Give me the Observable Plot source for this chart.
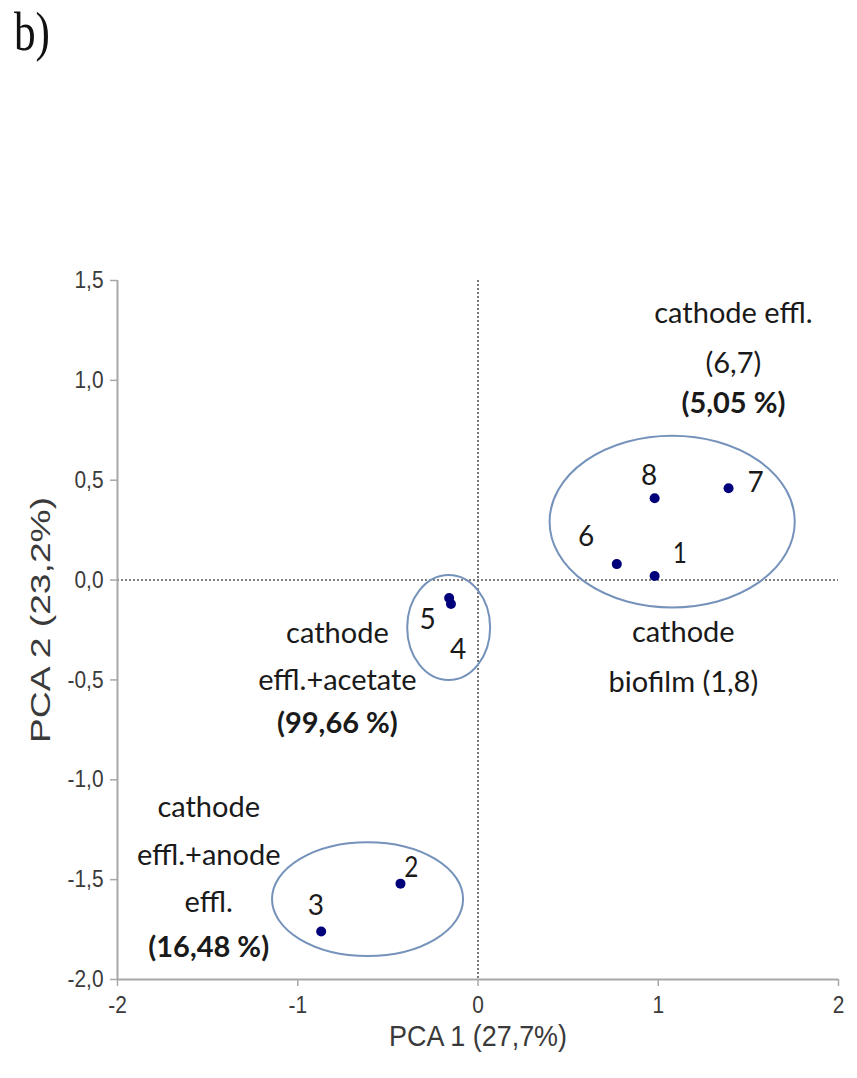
<!DOCTYPE html>
<html><head><meta charset="utf-8">
<script src="https://cdn.jsdelivr.net/npm/d3@7"></script>
<script src="https://cdn.jsdelivr.net/npm/@observablehq/plot@0.6"></script>
<style>
body{margin:0;background:#fff;}
#wrap{position:relative;width:857px;height:1078px;overflow:hidden;}
#tag{position:absolute;left:14px;top:0px;font-family:"Liberation Serif",serif;font-size:54px;line-height:64px;color:#111;transform:scale(0.8,1);transform-origin:0 0;}
#chart{position:absolute;left:0;top:0;}
</style></head><body>
<div id="wrap"><div id="chart"></div><div id="tag">b)</div></div>
<script>
// ---- data ----
const sampleIds = ["1","2","3","4","5","6","7","8"];
const pc1 = [0.98, -0.43, -0.87, -0.15, -0.16, 0.77, 1.39, 0.98];
const pc2 = [0.02, -1.52, -1.76, -0.12, -0.09, 0.08, 0.46, 0.41];
// label anchor positions (data units)
const idLabelX = [1.12, -0.37, -0.90, -0.11, -0.28, 0.60, 1.54, 0.95];
const idLabelY = [0.13, -1.44, -1.63, -0.35, -0.20, 0.215, 0.484, 0.523];

// cluster ellipses: center and semi-axes in data units
const clusterCx = [1.08, -0.16, -0.61];
const clusterCy = [0.29, -0.24, -1.60];
const clusterRx = [0.68, 0.23, 0.53];
const clusterRy = [0.43, 0.263, 0.285];

// annotation lines
const noteLines = ["cathode effl.", "(6,7)", "(5,05 %)", "cathode", "biofilm (1,8)",
  "cathode", "effl.+acetate", "(99,66 %)", "cathode", "effl.+anode", "effl.", "(16,48 %)"];
const noteX = [1.417, 1.417, 1.417, 1.139, 1.139, -0.78, -0.78, -0.78, -1.494, -1.494, -1.494, -1.494];
const noteY = [1.334, 1.084, 0.884, -0.263, -0.513, -0.268, -0.503, -0.719, -1.139, -1.379, -1.615, -1.84];
const noteBold = [false, false, true, false, false, false, false, true, false, false, false, true];

const xTicks = [-2, -1, 0, 1, 2];
const xTickLabels = ["-2", "-1", "0", "1", "2"];
const yTicks = [1.5, 1.0, 0.5, 0.0, -0.5, -1.0, -1.5, -2.0];
const yTickLabels = ["1,5", "1,0", "0,5", "0,0", "-0,5", "-1,0", "-1,5", "-2,0"];
const xTitle = "PCA 1 (27,7%)";
const yTitle = "PCA 2 (23,2%)";

// ---- tables ----
const samples = sampleIds.map((id, i) => ({id, pc1: pc1[i], pc2: pc2[i], lx: idLabelX[i], ly: idLabelY[i]}));
const clusters = clusterCx.map((cx, i) => ({cx, cy: clusterCy[i], rx: clusterRx[i], ry: clusterRy[i]}));
const notes = noteLines.map((t, i) => ({t, x: noteX[i], y: noteY[i], bold: noteBold[i]}));

const axisGray = "#a8a8a8";
const labelFont = "Lato, 'Open Sans', sans-serif";

function ellipseMark(index, scales) {
  const g = d3.create("svg:g").attr("fill", "none").attr("stroke", "#7592bb").attr("stroke-width", 2);
  for (const c of clusters) {
    const cx = scales.x(c.cx), cy = scales.y(c.cy);
    g.append("ellipse")
      .attr("cx", cx).attr("cy", cy)
      .attr("rx", Math.abs(scales.x(c.cx + c.rx) - cx))
      .attr("ry", Math.abs(scales.y(c.cy + c.ry) - cy));
  }
  return g.node();
}

const chart = Plot.plot({
  width: 857, height: 1078,
  marginLeft: 117, marginRight: 19, marginTop: 280, marginBottom: 99,
  x: {domain: [-2, 2]},
  y: {domain: [-2, 1.5]},
  style: {background: "white", fontFamily: "'Liberation Sans', Arial, sans-serif"},
  marks: [
    Plot.ruleX([0], {stroke: "#555", strokeWidth: 1.6, strokeDasharray: "2,2"}),
    Plot.ruleY([0], {stroke: "#555", strokeWidth: 1.6, strokeDasharray: "2,2"}),
    Plot.axisX(xTicks, {
      tickFormat: d => xTickLabels[xTicks.indexOf(d)],
      tickSize: 7, tickPadding: 9, stroke: axisGray, strokeWidth: 1.5,
      fill: "#3a3a3a", fontSize: 24, label: null
    }),
    Plot.axisY(yTicks, {
      tickFormat: d => yTickLabels[yTicks.indexOf(d)],
      tickSize: 7, tickPadding: 7, stroke: axisGray, strokeWidth: 1.5,
      fill: "#3a3a3a", fontSize: 24, label: null
    }),
    Plot.ruleY([-2], {stroke: axisGray, strokeWidth: 2}),
    Plot.ruleX([-2], {stroke: axisGray, strokeWidth: 2}),
    ellipseMark,
    Plot.dot(samples, {x: "pc1", y: "pc2", r: 5, fill: "#00007a", stroke: "none"}),
    Plot.text(samples, {x: "lx", y: "ly", text: "id", fontSize: 28, fontFamily: labelFont, fill: "#1a1a1a"}),
    Plot.text(notes.filter(d => !d.bold), {x: "x", y: "y", text: "t", fontSize: 29, fontFamily: labelFont, fill: "#1a1a1a"}),
    Plot.text(notes.filter(d => d.bold), {x: "x", y: "y", text: "t", fontSize: 29, fontWeight: "bold", fontFamily: labelFont, fill: "#1a1a1a"}),
    Plot.text([xTitle], {frameAnchor: "bottom", dy: 66, fontSize: 30, fill: "#3a3a3a"}),
    Plot.text([yTitle], {frameAnchor: "left", textAnchor: "middle", dx: -76, dy: -10, rotate: -90, fontSize: 28, fill: "#3a3a3a"})
  ]
});
document.getElementById("chart").appendChild(chart);

// narrow / stretch texts along their baseline (glyph-only change, position untouched)
function fitLength(t, len) {
  t.setAttribute("textLength", len);
  t.setAttribute("lengthAdjust", "spacingAndGlyphs");
}
chart.querySelectorAll("text").forEach(t => {
  const s = t.textContent;
  if (xTickLabels.includes(s) || yTickLabels.includes(s)) fitLength(t, t.getComputedTextLength() * 0.87);
  else if (s === xTitle) fitLength(t, 178);
  else if (s === yTitle) fitLength(t, 246);
});
</script>
</body></html>
